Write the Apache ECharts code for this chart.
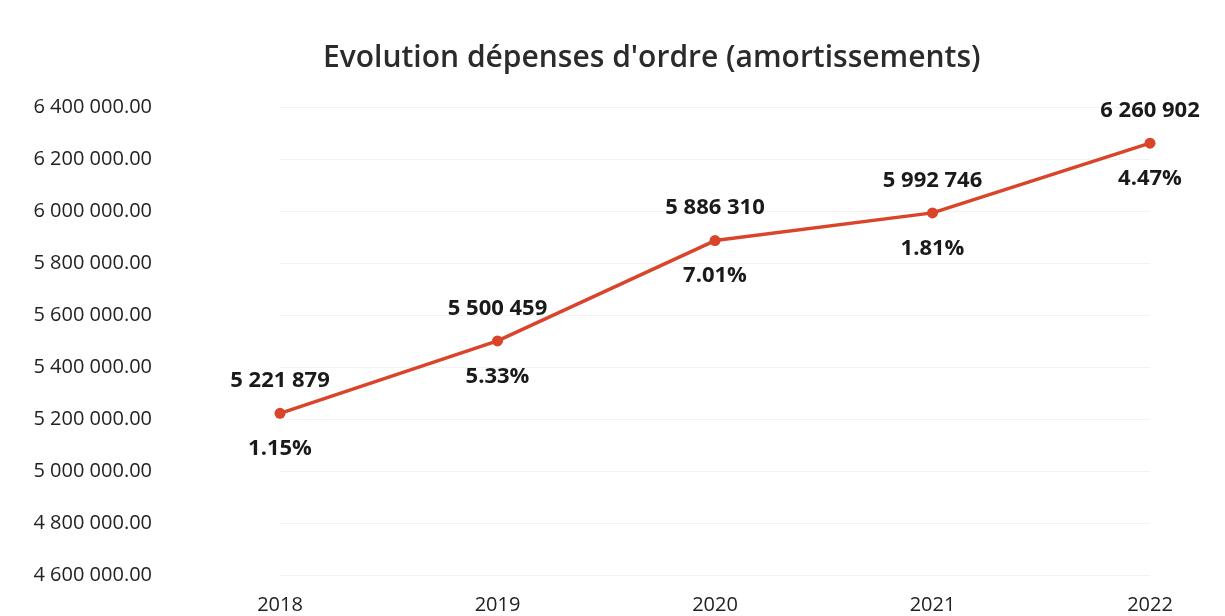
<!DOCTYPE html>
<html>
<head>
<meta charset="utf-8">
<script src="https://cdn.jsdelivr.net/npm/echarts@6/dist/echarts.min.js"></script>
<style>
  html, body { margin: 0; padding: 0; background: #fff; }
  #chart { width: 1225px; height: 616px; }
</style>
</head>
<body>
<div id="chart"></div>
<script>
(function() {
  var myChart = echarts.init(document.getElementById("chart"));

  // données
  var annees = ["2018", "2019", "2020", "2021", "2022"];
  var depenses = [5221879, 5500459, 5886310, 5992746, 6260902];
  var evolutions = ["1.15%", "5.33%", "7.01%", "1.81%", "4.47%"];

  // 6 400 000.00
  function fmtMontant(v, dec) {
    var s = Math.round(v).toString().replace(/\B(?=(\d{3})+(?!\d))/g, " ");
    return dec ? s + ".00" : s;
  }

  var option = {
    backgroundColor: "#ffffff",
    title: {
      text: "Evolution dépenses d'ordre (amortissements)",
      left: 318,
      top: 38,
      textStyle: {
        fontFamily: "Open Sans",
        fontSize: 30,
        fontWeight: 600,
        color: "#2b2b2b"
      }
    },
    grid: { left: 280, right: 75, top: 107, bottom: 41 },
    xAxis: {
      type: "category",
      data: annees,
      boundaryGap: false,
      axisLine: { show: false },
      axisTick: { show: false },
      axisLabel: {
        margin: 20,
        fontFamily: "Open Sans",
        fontSize: 20,
        color: "#222"
      }
    },
    yAxis: {
      type: "value",
      min: 4600000,
      max: 6400000,
      interval: 200000,
      axisLine: { show: false },
      axisTick: { show: false },
      splitLine: { lineStyle: { color: "#f2f2f2", width: 1 } },
      axisLabel: {
        margin: 128,
        fontFamily: "Open Sans",
        fontSize: 20,
        color: "#222",
        formatter: function(v) { return fmtMontant(v, true); }
      }
    },
    series: [
      {
        name: "Dépenses",
        type: "line",
        data: depenses,
        symbol: "circle",
        symbolSize: 11,
        lineStyle: { color: "#d9452a", width: 3.5 },
        itemStyle: { color: "#d9452a" },
        label: {
          show: true,
          position: "top",
          distance: 16,
          fontFamily: "Open Sans",
          fontSize: 22,
          fontWeight: "bold",
          color: "#1a1a1a",
          formatter: function(p) { return fmtMontant(p.value, false); }
        },
        z: 3
      },
      {
        name: "Évolution",
        type: "line",
        data: depenses,
        symbol: "circle",
        symbolSize: 1,
        lineStyle: { opacity: 0 },
        itemStyle: { color: "rgba(0,0,0,0)" },
        label: {
          show: true,
          position: "bottom",
          distance: 24,
          fontFamily: "Open Sans",
          fontSize: 22,
          fontWeight: "bold",
          color: "#1a1a1a",
          formatter: function(p) { return evolutions[p.dataIndex]; }
        },
        z: 2
      }
    ]
  };
  myChart.setOption(option);
  window.addEventListener("resize", function() {
    myChart.resize();
  });
})();
</script>
</body>
</html>
